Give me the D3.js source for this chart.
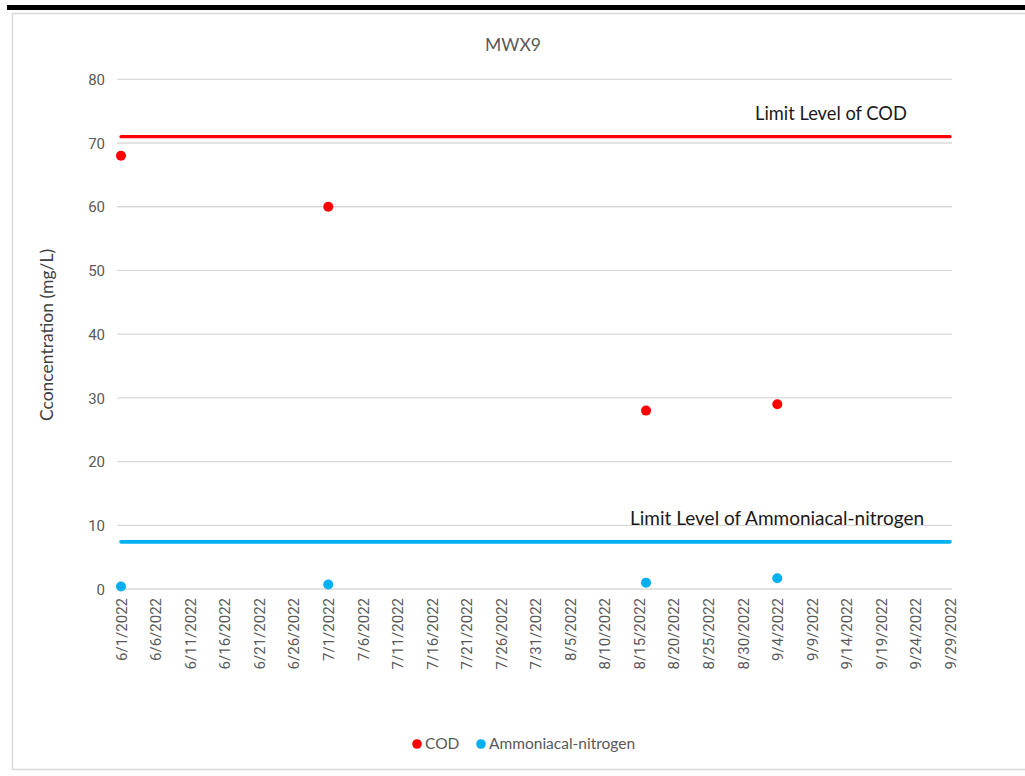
<!DOCTYPE html>
<html>
<head>
<meta charset="utf-8">
<script src="https://cdn.jsdelivr.net/npm/d3@7"></script>
<style>
  html, body { margin: 0; padding: 0; background: #fff; }
  svg { display: block; }
</style>
</head>
<body>
<svg id="chart" width="1025" height="776"></svg>
<script>
// Sampling dates and measured concentrations (mg/L)
const sampleDates = ["2022-06-01", "2022-07-01", "2022-08-16", "2022-09-04"];
const codValues = [68, 60, 28, 29];
const ammoniaValues = [0.4, 0.7, 1.0, 1.7];

// Regulatory limits
const codLimit = 71;
const ammoniaLimit = 7.4;

// Axis settings
const xStart = "2022-06-01";
const xEnd = "2022-09-29";
const tickStepDays = 5;
const yTicks = [0, 10, 20, 30, 40, 50, 60, 70, 80];

const parse = d3.timeParse("%Y-%m-%d");
const fmt = d => `${d.getMonth() + 1}/${d.getDate()}/${d.getFullYear()}`;

const svg = d3.select("#chart");
const font = "Lato, 'Open Sans', sans-serif";
const tickFont = "Roboto, 'Open Sans', sans-serif";

// Header bar and chart frame
svg.append("rect").attr("x", 7).attr("y", 5).attr("width", 1018).attr("height", 5).attr("fill", "#000");
svg.append("rect").attr("x", 12.5).attr("y", 13.5).attr("width", 1030).attr("height", 756)
  .attr("fill", "#fff").attr("stroke", "#d9d9d9").attr("stroke-width", 1.5);

const plot = { left: 121, right: 950, top: 79.3, bottom: 589 };

const x = d3.scaleTime()
  .domain([parse(xStart), parse(xEnd)])
  .range([plot.left, plot.right]);
const y = d3.scaleLinear().domain([0, 80]).range([plot.bottom, plot.top]);

// Title
svg.append("text").attr("x", 513).attr("y", 51).attr("text-anchor", "middle")
  .attr("font-family", font).attr("font-size", 17.5).attr("fill", "#595959").text("MWX9");

// Horizontal gridlines
const gridX0 = 117, gridX1 = 952;
svg.append("g").selectAll("line").data(yTicks).join("line")
  .attr("x1", gridX0).attr("x2", gridX1)
  .attr("y1", d => y(d)).attr("y2", d => y(d))
  .attr("stroke", "#d9d9d9").attr("stroke-width", 1.3);

// Y axis labels
const yAxis = d3.axisLeft(y).tickValues(yTicks).tickSize(0).tickPadding(0);
svg.append("g").attr("transform", `translate(${gridX0 - 12},0)`).call(yAxis)
  .call(g => g.select(".domain").remove())
  .call(g => g.selectAll("text").attr("font-family", tickFont).attr("font-size", 15)
    .attr("fill", "#595959").attr("dy", "0.35em"));

// X axis tick labels, rotated
const xTicks = d3.timeDay.range(parse(xStart), d3.timeDay.offset(parse(xEnd), 1), tickStepDays);
const xAxis = d3.axisBottom(x).tickValues(xTicks).tickFormat(fmt).tickSize(0).tickPadding(0);
svg.append("g").attr("transform", `translate(0,${plot.bottom})`).call(xAxis)
  .call(g => g.select(".domain").remove())
  .call(g => g.selectAll("text")
    .attr("font-family", tickFont).attr("font-size", 15).attr("fill", "#595959")
    .attr("transform", "rotate(-90)")
    .attr("text-anchor", "end")
    .attr("x", -9).attr("y", 0).attr("dy", "0.35em"));

// Y axis title
svg.append("text")
  .attr("transform", "translate(53,335) rotate(-90)")
  .attr("text-anchor", "middle").attr("font-family", font).attr("font-size", 17.5)
  .attr("fill", "#404040").text("Cconcentration (mg/L)");

// Limit lines
const limitLine = d3.line().x(d => x(d[0])).y(d => y(d[1]));
const limitSpan = [parse(xStart), parse(xEnd)];
svg.append("path").datum(limitSpan.map(d => [d, codLimit])).attr("d", limitLine)
  .attr("stroke", "#ff0000").attr("stroke-width", 3.2).attr("fill", "none").attr("stroke-linecap", "round");
svg.append("path").datum(limitSpan.map(d => [d, ammoniaLimit])).attr("d", limitLine)
  .attr("stroke", "#00b0f0").attr("stroke-width", 3.6).attr("fill", "none").attr("stroke-linecap", "round");

svg.append("text").attr("x", 755).attr("y", 120).attr("font-family", font).attr("font-size", 18.3)
  .attr("fill", "#1a1a1a").text("Limit Level of COD");
svg.append("text").attr("x", 630).attr("y", 525).attr("font-family", font).attr("font-size", 19)
  .attr("fill", "#1a1a1a").text("Limit Level of Ammoniacal-nitrogen");

// Data points
const dates = sampleDates.map(parse);
svg.append("g").selectAll("circle").data(codValues).join("circle")
  .attr("cx", (d, i) => x(dates[i])).attr("cy", d => y(d)).attr("r", 5)
  .attr("fill", "#ff0000");
svg.append("g").selectAll("circle").data(ammoniaValues).join("circle")
  .attr("cx", (d, i) => x(dates[i])).attr("cy", d => y(d)).attr("r", 5)
  .attr("fill", "#00b0f0");

// Legend
const legend = [
  { name: "COD", color: "#ff0000", x: 417 },
  { name: "Ammoniacal-nitrogen", color: "#00b0f0", x: 481 }
];
const lg = svg.append("g").selectAll("g").data(legend).join("g")
  .attr("transform", d => `translate(${d.x},744)`);
lg.append("circle").attr("r", 4.8).attr("fill", d => d.color);
lg.append("text").attr("x", 8).attr("dy", "0.35em").attr("font-family", font)
  .attr("font-size", 15.5).attr("fill", "#595959").text(d => d.name);
</script>
</body>
</html>
